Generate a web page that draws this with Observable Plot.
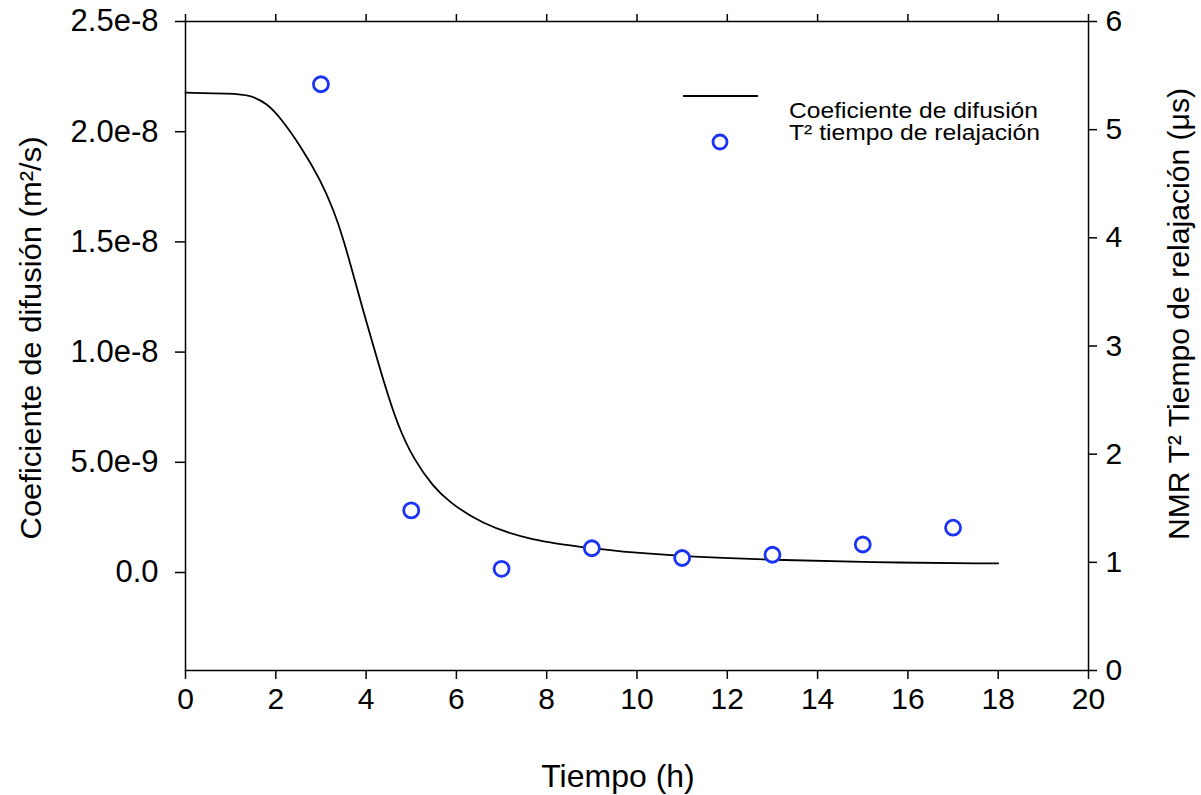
<!DOCTYPE html>
<html><head><meta charset="utf-8">
<script src="https://cdn.jsdelivr.net/npm/d3@7"></script>
<script src="https://cdn.jsdelivr.net/npm/@observablehq/plot@0.6"></script>
<style>
body{margin:0;background:#fff;font-family:"Liberation Sans",Arial,sans-serif;}
#chart{position:relative;width:1201px;height:795px;}
</style>
</head><body><div id="chart"></div>
<script>
const xTicks = [0,2,4,6,8,10,12,14,16,18,20];
const leftTicks = [0,5e-9,1e-8,1.5e-8,2e-8,2.5e-8];
const leftTickLabels = ["0.0","5.0e-9","1.0e-8","1.5e-8","2.0e-8","2.5e-8"];
const rightTicks = [0,1,2,3,4,5,6];
const curveHours = [0,1.0,1.44,1.81,2.1,2.55,2.99,3.29,3.51,3.73,3.95,4.17,4.39,4.69,5.06,5.5,5.8,6.53,7.64,9.04,9.86,11.03,13.0,15.1,18.0];
const curveDiff = [2.177e-8,2.173e-8,2.167e-8,2.127e-8,2.064e-8,1.935e-8,1.782e-8,1.640e-8,1.505e-8,1.340e-8,1.178e-8,1.022e-8,0.866e-8,0.672e-8,0.510e-8,0.387e-8,0.327e-8,0.222e-8,0.145e-8,0.109e-8,0.091e-8,0.073e-8,0.057e-8,0.046e-8,0.041e-8];
const t2Hours = [3,5,7,9,11,13,15,17];
const t2Values = [5.42,1.48,0.94,1.13,1.04,1.07,1.165,1.32];
const xLabel = "Tiempo (h)";
const yLeftLabel = "Coeficiente de difusión (m²/s)";
const yRightLabel = "NMR T² Tiempo de relajación (μs)";
const legendLabels = ["Coeficiente de difusión","T² tiempo de relajación"];

const yDomain = [-4.446e-9, 2.5e-8];
const rightDomain = [0, 6];
const toLeft = v => yDomain[0] + (v - rightDomain[0])/(rightDomain[1]-rightDomain[0])*(yDomain[1]-yDomain[0]);
const fromLeft = d => rightDomain[0] + (d - yDomain[0])/(yDomain[1]-yDomain[0])*(rightDomain[1]-rightDomain[0]);

const curveData = curveHours.map((h,i)=>({h, d: curveDiff[i]}));
const t2Data = t2Hours.map((h,i)=>({h, v: t2Values[i]}));
const blue = "#1b33f5";
const FONT = '"Liberation Sans", Arial, sans-serif';

const chart = Plot.plot({
  width: 1201, height: 795,
  marginLeft: 185, marginRight: 113, marginTop: 21, marginBottom: 125,
  style: {fontFamily: FONT, color: "black", background: "white"},
  x: {domain: [0,20]},
  y: {domain: yDomain},
  marks: [
    Plot.frame({stroke: "black", strokeWidth: 1.5}),
    Plot.axisX({anchor: "bottom", ticks: xTicks, tickSize: 9, tickPadding: 8, fontSize: 30, label: null, strokeWidth: 1.5}),
    Plot.axisX({anchor: "top", ticks: xTicks, tickSize: 8, tickFormat: () => "", label: null, strokeWidth: 1.5}),
    Plot.axisY({anchor: "left", ticks: leftTicks, tickFormat: d => leftTickLabels[leftTicks.indexOf(d)], tickSize: 10, tickPadding: 17, fontSize: 31, label: null, strokeWidth: 1.5}),
    Plot.axisY({anchor: "right", ticks: rightTicks.map(toLeft), tickFormat: d => String(Math.round(fromLeft(d))), tickSize: 8, tickPadding: 9, fontSize: 30, label: null, strokeWidth: 1.5}),
    Plot.line(curveData, {x: "h", y: "d", curve: "basis", stroke: "black", strokeWidth: 1.8}),
    Plot.dot(t2Data, {x: "h", y: d => toLeft(d.v), r: 7.5, stroke: blue, strokeWidth: 2.8, fill: "white"})
  ]
});
document.getElementById("chart").appendChild(chart);

const svg = d3.select(chart);
// axis titles
const tg = svg.append("g").attr("font-family", FONT).attr("fill", "black").attr("text-anchor", "middle");
tg.append("text").attr("x", 618).attr("y", 787).attr("font-size", 32).text(xLabel);
tg.append("text").attr("transform", "translate(41,338) rotate(-90)").attr("font-size", 30)
  .attr("textLength", 403).attr("lengthAdjust", "spacingAndGlyphs").text(yLeftLabel);
tg.append("text").attr("transform", "translate(1189,314) rotate(-90)").attr("font-size", 30)
  .attr("textLength", 452).attr("lengthAdjust", "spacingAndGlyphs").text(yRightLabel);

// legend
const lg = svg.append("g").attr("font-family", FONT).attr("font-size", 22).attr("text-anchor", "start").attr("fill", "black");
lg.append("line").attr("x1", 683).attr("x2", 758).attr("y1", 96).attr("y2", 96).attr("stroke", "black").attr("stroke-width", 1.8);
lg.append("circle").attr("cx", 720).attr("cy", 142).attr("r", 7).attr("fill", "white").attr("stroke", blue).attr("stroke-width", 2.8);
lg.append("text").attr("x", 789).attr("y", 118).attr("textLength", 249).attr("lengthAdjust", "spacingAndGlyphs").text(legendLabels[0]);
lg.append("text").attr("x", 789).attr("y", 140).attr("textLength", 251).attr("lengthAdjust", "spacingAndGlyphs").text(legendLabels[1]);
</script>
</body></html>
